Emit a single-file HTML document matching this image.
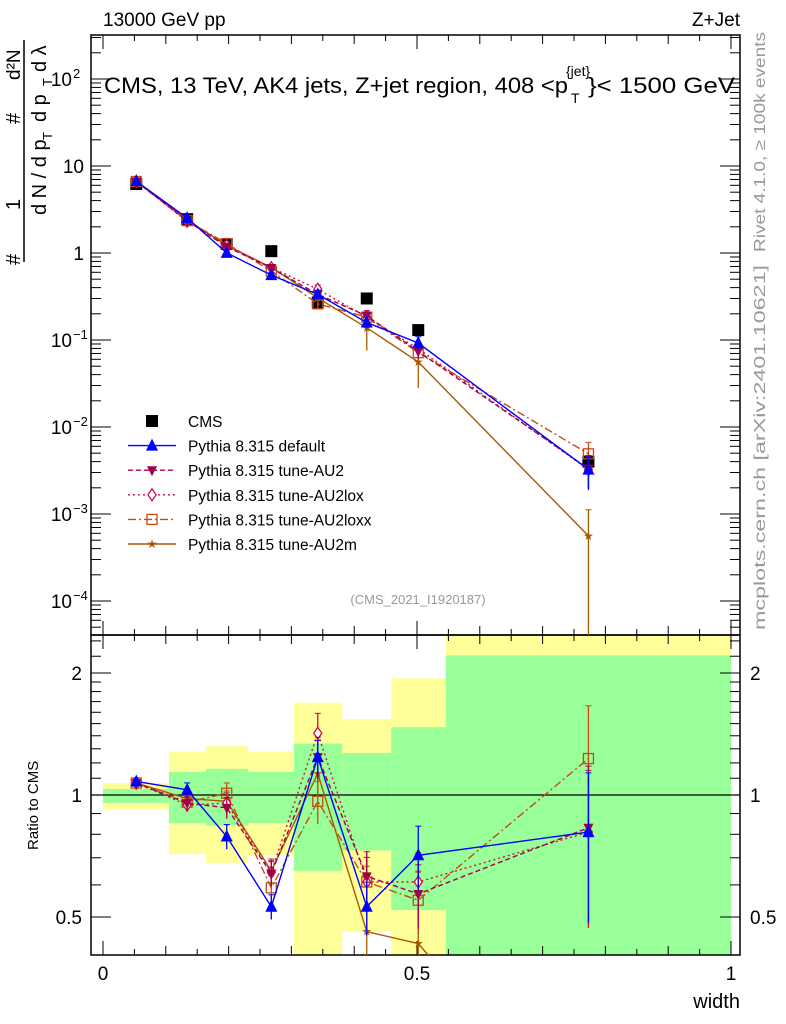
<!DOCTYPE html>
<html><head><meta charset="utf-8"><style>
html,body{margin:0;background:#fff;overflow:hidden;width:786px;height:1024px;}
svg{display:block;font-family:"Liberation Sans",sans-serif;}
</style></head><body>
<svg id="c" width="786" height="1024" viewBox="0 0 786 1024" xmlns="http://www.w3.org/2000/svg"></svg>
<script>
const edges=[0,0.105,0.164,0.231,0.304,0.381,0.459,0.546,1.0];
const centers=[0.053,0.134,0.197,0.268,0.342,0.420,0.502,0.773];
const cms=[6.2,2.45,1.27,1.05,0.27,0.30,0.13,0.0040];
const yelLo=[0.92,0.715,0.68,0.71,0.3,0.46,0.3,0.3];
const yelHi=[1.07,1.28,1.32,1.28,1.69,1.54,1.94,2.6];
const grnLo=[0.956,0.853,0.84,0.853,0.65,0.73,0.52,0.3];
const grnHi=[1.035,1.14,1.16,1.14,1.34,1.27,1.47,2.21];
const rDefault=[1.08,1.03,0.79,0.53,1.24,0.53,0.71,0.81];
const rAU2=[1.07,0.955,0.93,0.64,1.24,0.63,0.57,0.83];
const rAU2lox=[1.07,0.945,0.955,0.645,1.42,0.61,0.61,0.81];
const rAU2loxx=[1.07,0.96,1.01,0.59,0.965,0.61,0.55,1.23];
const rAU2m=[1.07,0.98,0.965,0.65,1.13,0.46,0.43,0.14];
const eDefault=[0.02,0.04,0.07,0.07,0.1,0.15,0.18,0.4];
const eAU2=[0.02,0.04,0.06,0.07,0.12,0.15,0.18,0.42];
const eAU2lox=[0.02,0.04,0.06,0.07,0.12,0.15,0.18,0.42];
const eAU2loxx=[0.02,0.04,0.06,0.07,0.12,0.15,0.18,0.35];
const eAU2m=[0.02,0.04,0.06,0.07,0.12,0.45,0.5,1.0];

const NS="http://www.w3.org/2000/svg";
const svg=document.getElementById('c');
function el(t,a,p){const e=document.createElementNS(NS,t);for(const k in a)e.setAttribute(k,a[k]);(p||svg).appendChild(e);return e;}
const X=v=>103+628*v;
const Yt=v=>253-87*Math.log10(v);
const Yr=r=>795-122*Math.log2(r);
const L=91,R=740,T=35,M=635,B=955;

const gB=el('g',{});


for(let i=0;i<8;i++){
  const x0=X(edges[i]),x1=Math.min(X(edges[i+1]),R);
  const yt=Math.max(Yr(yelHi[i]),M),yb=Math.min(Yr(yelLo[i]),B);
  const r1=el('rect',{x:x0,y:yt,width:x1-x0,height:yb-yt,fill:'#ffff99'},gB);
  
  
  const gt=Math.max(Yr(grnHi[i]),M),gb=Math.min(Yr(grnLo[i]),B);
  const r2=el('rect',{x:x0,y:gt,width:x1-x0,height:gb-gt,fill:'#99ff99'},gB);
  
  
}
el('line',{x1:L,x2:R,y1:Yr(1),y2:Yr(1),stroke:'#000','stroke-width':1.2});

const f1=el('rect',{x:L,y:T,width:R-L,height:M-T,fill:'none',stroke:'#000','stroke-width':1.5});

const f2=el('rect',{x:L,y:M,width:R-L,height:B-M,fill:'none',stroke:'#000','stroke-width':1.5});


for(let k=0;k<=20;k++){const v=k*0.05,x=X(v);if(x>R)break;const len=k%10==0?14:(k%2==0?9:6);
 el('line',{x1:x,x2:x,y1:B,y2:B-len,stroke:'#000'});el('line',{x1:x,x2:x,y1:M,y2:M+len,stroke:'#000'});
 el('line',{x1:x,x2:x,y1:M,y2:M-len,stroke:'#000'});el('line',{x1:x,x2:x,y1:T,y2:T+len,stroke:'#000'});}
[['0',0],['0.5',0.5],['1',1]].forEach(([t,v])=>{const e=el('text',{x:X(v),y:980,'font-size':19,'text-anchor':'middle'});e.textContent=t;
 });
const xl=el('text',{x:740,y:1008,'font-size':20,'text-anchor':'end'});xl.textContent='width';


for(let d=-5;d<=2;d++){for(let m=1;m<10;m++){const v=m*Math.pow(10,d),y=Yt(v);if(y<T||y>M)continue;const len=m==1?20:10;
 el('line',{x1:L,x2:L+len,y1:y,y2:y,stroke:'#000'});el('line',{x1:R,x2:R-len,y1:y,y2:y,stroke:'#000'});}}
function ylab(y,txt,sup){const e=el('text',{x:sup?72:84,y:y+7,'font-size':19,'text-anchor':'end'});e.textContent=txt;
 
 if(sup){const s=el('text',{x:73,y:y-1,'font-size':13});s.textContent=sup;}}
ylab(Yt(100),'10','2');ylab(Yt(10),'10');ylab(Yt(1),'1');ylab(Yt(0.1),'10','−1');ylab(Yt(0.01),'10','−2');ylab(Yt(0.001),'10','−3');ylab(Yt(0.0001),'10','−4');

[0.4,0.5,0.6,0.7,0.8,0.9,1,1.1,1.2,1.3,1.4,1.5,1.6,1.7,1.8,1.9,2,2.2,2.4].forEach(r=>{const y=Yr(r);if(y<M||y>B)return;const len=(r==0.5||r==1||r==2)?20:10;
 el('line',{x1:L,x2:L+len,y1:y,y2:y,stroke:'#000'});el('line',{x1:R,x2:R-len,y1:y,y2:y,stroke:'#000'});});
[['2',2],['1',1],['0.5',0.5]].forEach(([t,r])=>{const a=el('text',{x:82,y:Yr(r)+7,'font-size':19,'text-anchor':'end'});a.textContent=t;
 
 const b=el('text',{x:750,y:Yr(r)+7,'font-size':19});b.textContent=t;});

function marker(g,type,x,y,c){
 if(type=='sq')el('rect',{x:x-6,y:y-6,width:12,height:12,fill:'#000'},g);
 else if(type=='tri')el('polygon',{points:`${x},${y-7} ${x-6},${y+5} ${x+6},${y+5}`,fill:c},g);
 else if(type=='itri')el('polygon',{points:`${x},${y+6} ${x-5},${y-4} ${x+5},${y-4}`,fill:c},g);
 else if(type=='dia')el('polygon',{points:`${x},${y-6} ${x-4},${y} ${x},${y+6} ${x+4},${y}`,fill:'#fff',stroke:c,'stroke-width':1.3},g);
 else if(type=='osq')el('rect',{x:x-5,y:y-5,width:10,height:10,fill:'none',stroke:c,'stroke-width':1.3},g);
 else if(type=='star')el('text',{x:x,y:y+4,'font-size':12,'text-anchor':'middle',fill:c},g).textContent='★';
}
const series=[
 {n:'default',r:rDefault,e:eDefault,c:'#0000ff',d:'',m:'tri'},
 {n:'tune-AU2',r:rAU2,e:eAU2,c:'#a0004a',d:'5,3',m:'itri'},
 {n:'tune-AU2lox',r:rAU2lox,e:eAU2lox,c:'#cc1040',d:'2,3',m:'dia'},
 {n:'tune-AU2loxx',r:rAU2loxx,e:eAU2loxx,c:'#c84a14',d:'8,3,2,3',m:'osq'},
 {n:'tune-AU2m',r:rAU2m,e:eAU2m,c:'#a85a00',d:'',m:'star'}];

const clipT=el('clipPath',{id:'ct'});el('rect',{x:L,y:T,width:R-L,height:M-T},clipT);
const clipR=el('clipPath',{id:'cr'});el('rect',{x:L,y:M,width:R-L,height:B-M},clipR);

const gc=el('g',{});
cms.forEach((v,i)=>marker(gc,'sq',X(centers[i]),Yt(v)));

series.slice().reverse().forEach(s=>{
 const gt=el('g',{'clip-path':'url(#ct)'});
 
 const gr=el('g',{'clip-path':'url(#cr)'});
 
 const pt=[],pr=[];
 s.r.forEach((r,i)=>{const x=X(centers[i]),v=cms[i]*r;pt.push(x+','+Yt(v));pr.push(x+','+Yr(r));});
 el('polyline',{points:pt.join(' '),fill:'none',stroke:s.c,'stroke-width':1.4,'stroke-dasharray':s.d},gt);
 el('polyline',{points:pr.join(' '),fill:'none',stroke:s.c,'stroke-width':1.4,'stroke-dasharray':s.d},gr);
 s.r.forEach((r,i)=>{const x=X(centers[i]),v=cms[i]*r,e=s.e[i];
  const lo=Math.max(1-e,0.001),hi=1+e;
  el('line',{x1:x,x2:x,y1:Yt(v*hi),y2:Yt(v*lo),stroke:s.c,'stroke-width':1.3},gt);
  el('line',{x1:x-3,x2:x+3,y1:Yt(v*hi),y2:Yt(v*hi),stroke:s.c},gt);
  el('line',{x1:x,x2:x,y1:Yr(r*hi),y2:Yr(r*lo),stroke:s.c,'stroke-width':1.3},gr);
  el('line',{x1:x-3,x2:x+3,y1:Yr(r*hi),y2:Yr(r*hi),stroke:s.c},gr);
  marker(gt,s.m,x,Yt(v),s.c);marker(gr,s.m,x,Yr(r),s.c);});
});

const gl=el('g',{});
const lt=['CMS','Pythia 8.315 default','Pythia 8.315 tune-AU2','Pythia 8.315 tune-AU2lox','Pythia 8.315 tune-AU2loxx','Pythia 8.315 tune-AU2m'];
lt.forEach((t,i)=>{const y=421+i*24.6;const g=el('g',{},gl);
 
 if(i==0)marker(g,'sq',152,y);else{const s=series[i-1];el('line',{x1:128,x2:176,y1:y,y2:y,stroke:s.c,'stroke-width':1.4,'stroke-dasharray':s.d},g);marker(g,s.m,152,y,s.c);}
 const tx=el('text',{x:188,y:y+6,'font-size':15.5},g);tx.textContent=t;});

function txt(x,y,s,t,attrs,name){const e=el('text',Object.assign({x:x,y:y,'font-size':s},attrs||{}));e.textContent=t;return e;}
txt(103,26,19,'13000 GeV pp',{},'energy-label');
txt(740,26,19,'Z+Jet',{'text-anchor':'end'},'process-label');
txt(418,604,13,'(CMS_2021_I1920187)',{'text-anchor':'middle',fill:'#999'},'analysis-id');
txt(104,93,22,'CMS, 13 TeV, AK4 jets, Z+jet region, 408 <p',{textLength:464,lengthAdjust:'spacingAndGlyphs'},'plot-title');
txt(571,103,14,'T',{},'plot-title-subscript');
txt(566,76,14,'{jet}',{},'plot-title-superscript');
txt(588,93,22,'}< 1500 GeV',{textLength:147,lengthAdjust:'spacingAndGlyphs'},'plot-title-end');
txt(0,0,16,'Rivet 4.1.0, ≥ 100k events',{transform:'translate(765,252) rotate(-90)',fill:'#999',textLength:220,lengthAdjust:'spacingAndGlyphs'},'rivet-label');
txt(0,0,16,'mcplots.cern.ch [arXiv:2401.10621]',{transform:'translate(765,630) rotate(-90)',fill:'#999',textLength:365,lengthAdjust:'spacingAndGlyphs'},'mcplots-label');
txt(0,0,15,'Ratio to CMS',{transform:'translate(38,850) rotate(-90)'},'ratio-axis-title');
const gy=el('g',{});
el('line',{x1:24,x2:24,y1:40,y2:262,stroke:'#000','stroke-width':1.5},gy);
function rt(x,y,s,t){const e=el('text',{transform:`translate(${x},${y}) rotate(-90)`,'font-size':s},gy);e.textContent=t;}
rt(20,265,20,'#');rt(20,210,20,'1');rt(20,124,20,'#');rt(20,80,19,'d²N');
rt(46,215,20,'d N / d p');rt(52,140,13,'T');rt(46,122,20,'d p');rt(52,86,13,'T');rt(46,72,20,'d λ');
</script>
</body></html>
